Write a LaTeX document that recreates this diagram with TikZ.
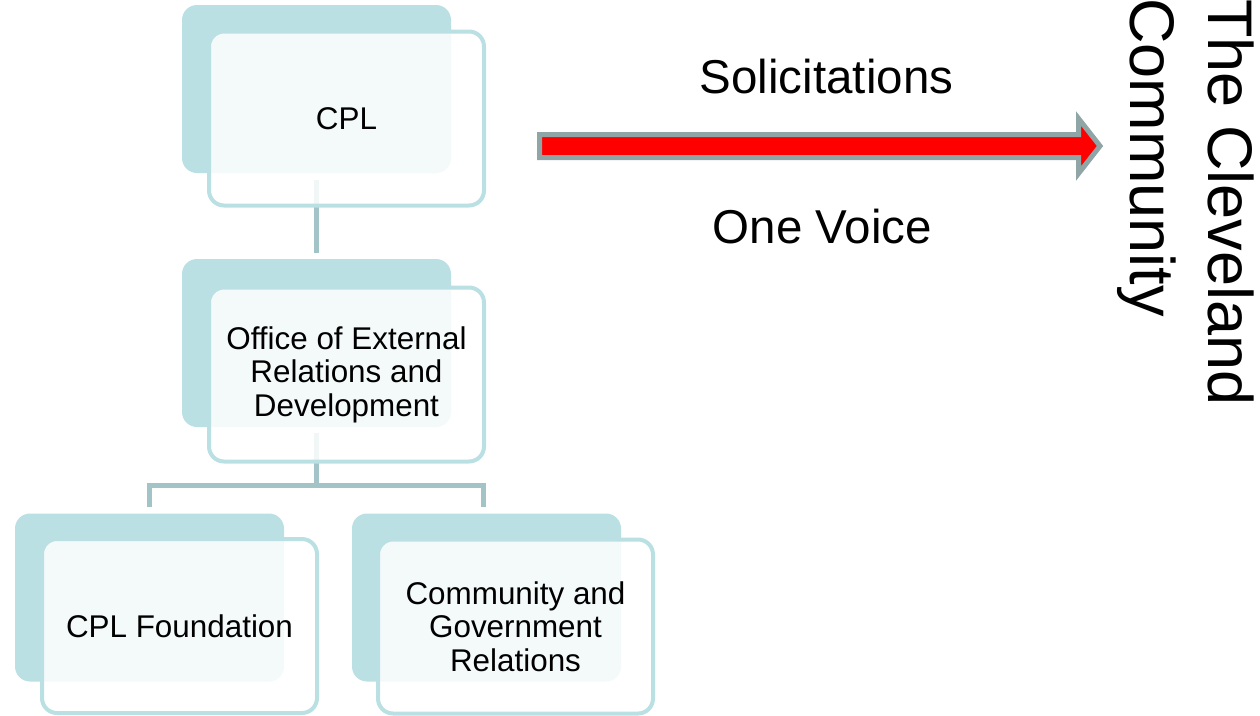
\documentclass[tikz,border=0pt]{standalone}
\usepackage{fontspec}
\setmainfont{Liberation Sans}
\definecolor{teal1}{HTML}{BBE0E3}
\definecolor{connc}{HTML}{A2C4C6}
\definecolor{arrowgray}{HTML}{8FA5A6}
\tikzset{
  backbox/.style={rectangle, rounded corners=15pt, fill=teal1, draw=none,
    minimum width=269pt, minimum height=168pt, inner sep=0pt},
  frontbox/.style={rectangle, rounded corners=15pt, fill=white, fill opacity=0.85,
    text opacity=1, draw=teal1, line width=4pt,
    minimum width=275pt, minimum height=174pt, inner sep=2pt, align=center,
    font=\fontsize{31.4}{33.5}\selectfont},
  conn/.style={draw=connc, line width=5pt},
  bigtext/.style={font=\fontsize{47.5}{52}\selectfont, inner sep=0pt},
  sidetext/.style={font=\fontsize{63}{70}\selectfont, inner sep=0pt, rotate=-90, anchor=base west}
}
\begin{document}
\begin{tikzpicture}[x=1pt,y=-1pt]
\useasboundingbox (0,0) rectangle (1260,715);
% back boxes
\node[backbox] (bCPL) at (316.5,89) {};
\node[backbox] (bOff) at (316.5,343) {};
\node[backbox] (bL) at (149.5,597.5) {};
\node[backbox] (bR) at (486.5,597.5) {};
% connectors
\coordinate (hub) at (316.5,485);
\draw[conn] ([yshift=-7pt]bCPL.south) -- ([yshift=6pt]bOff.north);
\draw[conn] ([yshift=-6pt]bOff.south) -- (hub);
\draw[conn] ([yshift=6pt]bL.north) |- (hub) -| ([yshift=6pt,xshift=-3pt]bR.north);
% front boxes
\node[frontbox] (fCPL) at (346.5,118.5) {CPL};
\node[frontbox] (fOff) at (346.5,374.5) {Office of External\\Relations and\\Development};
\node[frontbox] (fL) at (179.5,626) {CPL Foundation};
\node[frontbox] (fR) at (515.5,626.5) {Community and\\Government\\Relations};
% arrow
\draw[draw=arrowgray, fill=red, line width=5pt, line join=miter]
  (539.5,134.5) -- (1078.5,134.5) -- (1078.5,118.5) -- (1100,146) --
  (1078.5,173.5) -- (1078.5,157.5) -- (539.5,157.5) -- cycle;
\node[bigtext] (sol) at (826.5,77) {Solicitations};
\node[bigtext] (one) at (822.5,227) {One Voice};
% side text
\node[sidetext] (cle) at (1208,-1) {The Cleveland};
\node[sidetext] (com) at (1130,-2) {Community};
\end{tikzpicture}
\end{document}
